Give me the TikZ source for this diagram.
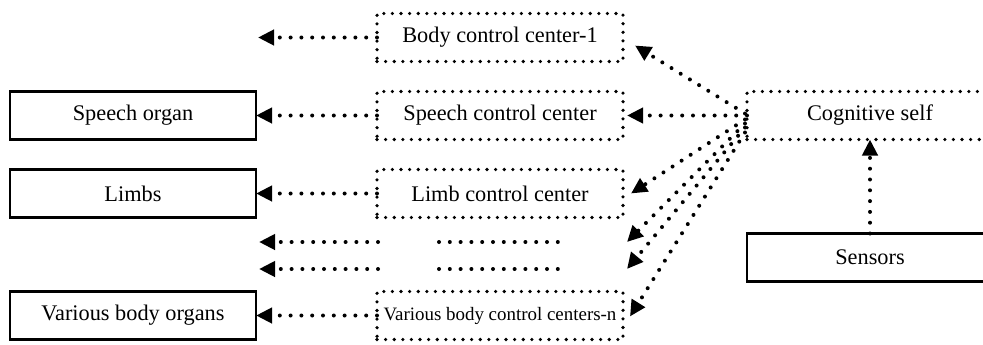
\documentclass[tikz,border=0pt]{standalone}
\usepackage{fontspec}
\setmainfont{Liberation Serif}
\usetikzlibrary{positioning,arrows.meta,calc}

\begin{document}
\begin{tikzpicture}[
  font=\fontsize{11.2}{13}\selectfont,
  organ/.style={rectangle, draw=black, line width=1.1bp, fill=white,
    minimum width=123bp, minimum height=24bp, align=center, inner sep=2pt,
    outer sep=0pt, text=black},
  ctrl/.style={organ, line width=1.8bp, line cap=round, dash pattern=on 0pt off 4.3bp},
  cmd/.style={-{Triangle[length=8bp, width=7.5bp]}, draw=black, line width=2bp,
    line cap=round, dash pattern=on 0pt off 5.4bp},
  dotrow/.style={cmd, -},
]
\useasboundingbox (0,0) rectangle (491.5bp,-172.5bp);

% ---- control centres ----
\node[ctrl] (bodyc) at (250bp,-18.75bp) {Body control center-1};
\node[ctrl, below=15bp of bodyc] (speechc) {Speech control center};
\node[ctrl, below=15bp of speechc] (limbc) {Limb control center};
\node[ctrl, below=37bp of limbc] (variousc)
  {\fontsize{9.5}{11}\selectfont Various body control centers-n};

% ---- organs ----
\node[organ, left=60.5bp of speechc] (speecho) {Speech organ};
\node[organ, left=60.5bp of limbc] (limbo) {Limbs};
\node[organ, left=60.5bp of variousc] (varo) {Various body organs};

% ---- self and sensors ----
\node[ctrl, right=62bp of speechc] (cog) {Cognitive self};
\node[organ, below=47bp of cog] (sensors) {Sensors};

\coordinate[left=59.5bp of bodyc.west] (bodytip);

% ---- commands to the organs ----
\draw[cmd] (bodyc) -- (bodytip);
\draw[cmd] (speechc) -- (speecho);
\draw[cmd] (limbc) -- (limbo);
\draw[cmd] (variousc) -- (varo);

% ---- rows left open ----
\foreach \y/\n in {121/a, 134.5/b} {
  \coordinate (tip\n) at (129.5bp,-\y bp);
  \coordinate (start\n) at (189bp,-\y bp);
  \coordinate (mida\n) at (219.5bp,-\y bp);
  \coordinate (midb\n) at (281bp,-\y bp);
  \coordinate (fan\n) at (313.5bp,-\y bp);
  \draw[cmd] (start\n) -- (tip\n);
  \draw[dotrow] (mida\n) -- (midb\n);
}

% ---- fan out of the cognitive self ----
\draw[cmd] ($(cog.west)+(-1bp,1bp)$) -- ($(bodyc.east)+(6bp,-4bp)$);
\draw[cmd] (cog.west) -- ($(speechc.east)+(2bp,0)$);
\draw[cmd] ($(cog.west)+(-1bp,-2bp)$) -- ($(limbc.east)+(4bp,0)$);
\draw[cmd] ($(cog.west)+(-1bp,-4bp)$) -- (fana);
\draw[cmd] ($(cog.west)+(-1bp,-6bp)$) -- (fanb);
\draw[cmd] ($(cog.west)+(-1bp,-8.5bp)$) -- ($(variousc.east)+(3.5bp,-0.5bp)$);

% ---- sensing ----
\draw[cmd] (sensors) -- (cog);

\end{tikzpicture}
\end{document}
